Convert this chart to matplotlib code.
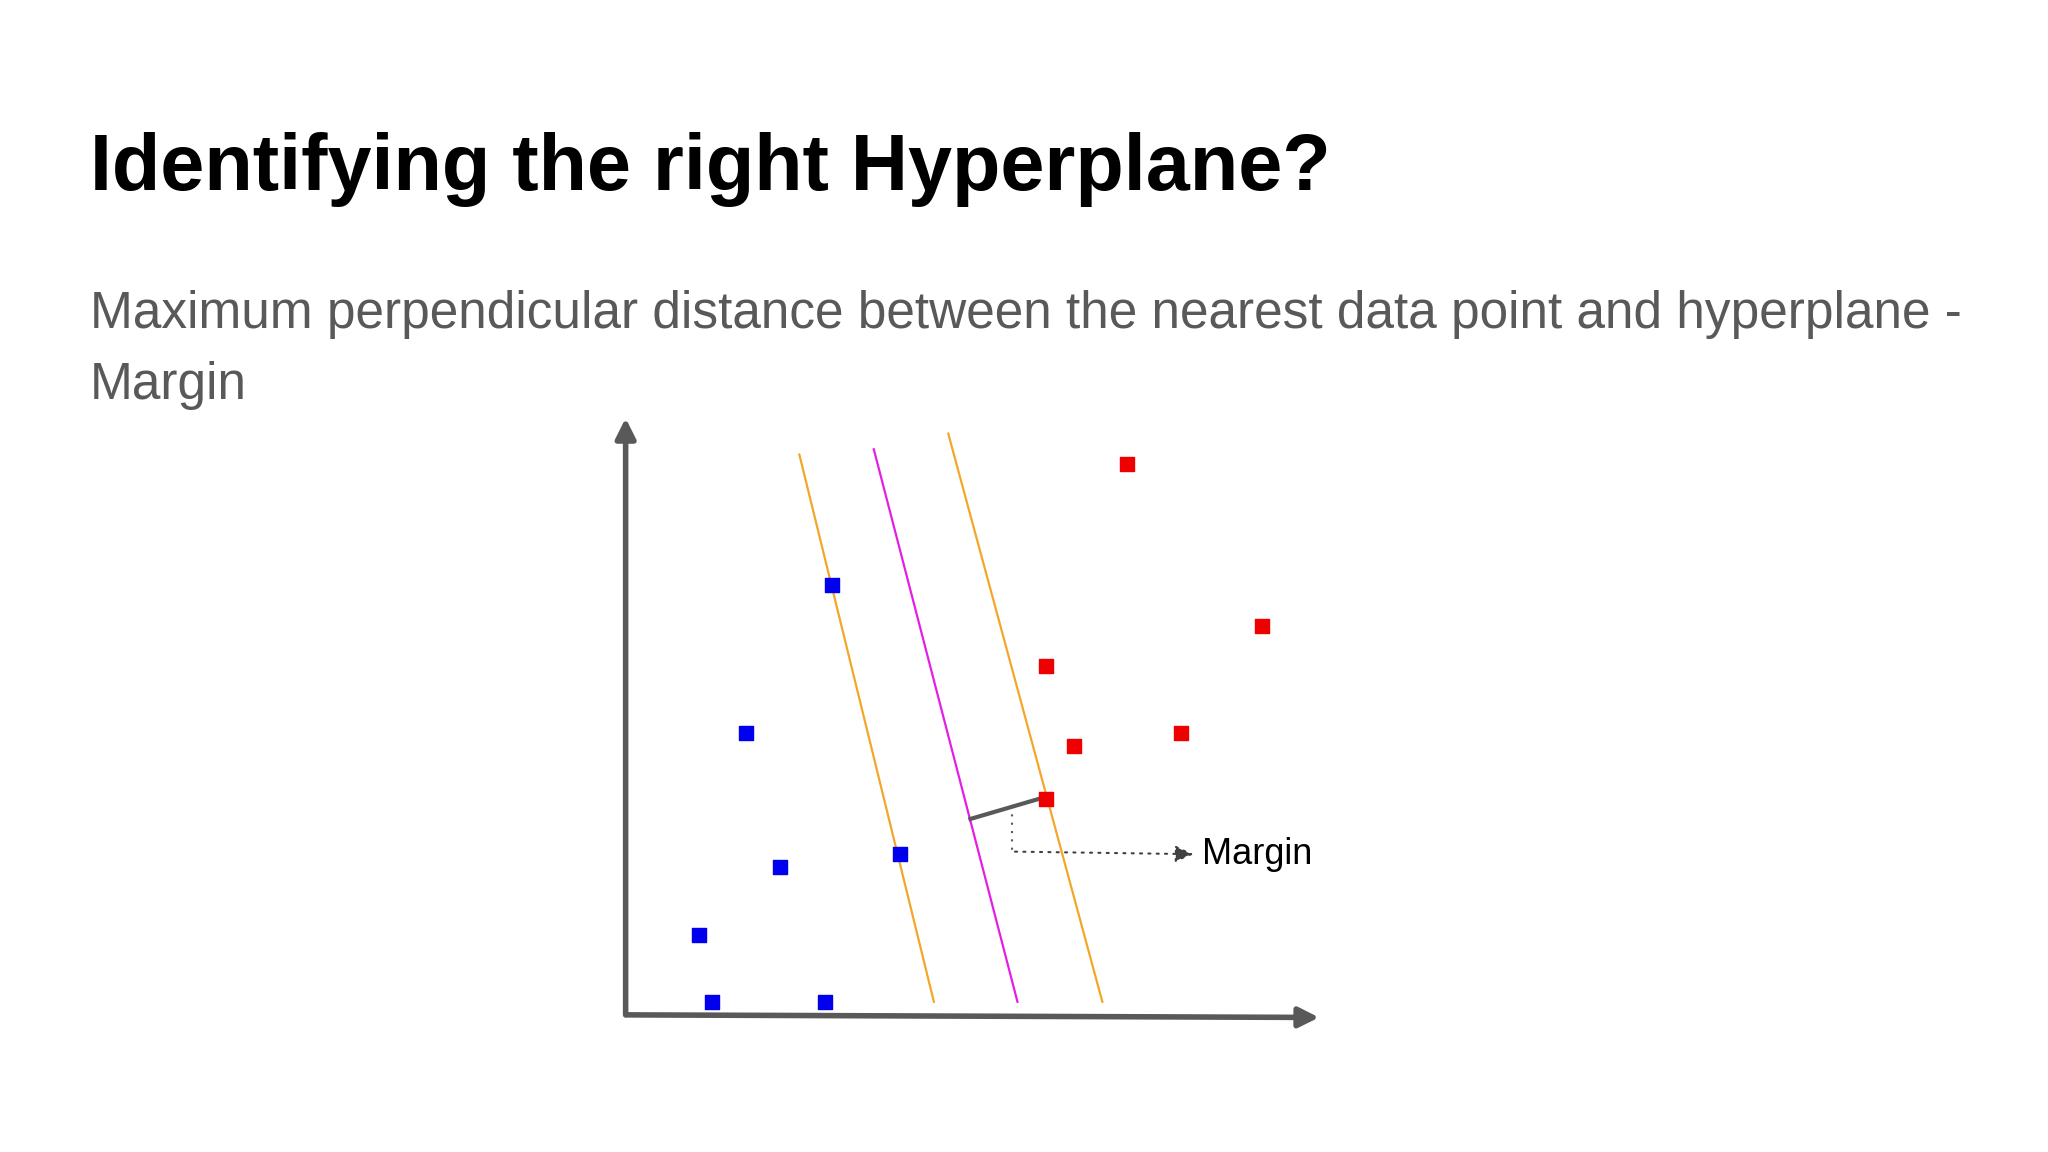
import matplotlib
matplotlib.use("Agg")
import matplotlib.pyplot as plt

plt.rcParams['font.family'] = ['Liberation Sans', 'DejaVu Sans']

W, H = 1568, 882
blue_x = [637, 571, 597, 689, 535, 545, 632]
blue_y = [448, 561, 664, 654, 716, 767, 767]
red_x = [863, 966, 801, 822, 904, 801]
red_y = [355, 479, 510, 571, 561, 612]
lines = {
    'orange1': ((612, 348), (715, 767), '#f4a62a'),
    'magenta': ((669, 344), (779, 767), '#e41ee4'),
    'orange2': ((726, 332), (844, 767), '#f4a62a'),
}

fig = plt.figure(figsize=(20.48, 11.52), dpi=100)
ax = fig.add_axes([0, 0, 1, 1])
ax.set_xlim(0, W)
ax.set_ylim(H, 0)
ax.axis('off')

ax.text(69, 130, "Identifying the right Hyperplane?", fontsize=57, fontweight='bold',
        va='center', ha='left', color='black')
ax.text(69, 241, "Maximum perpendicular distance between the nearest data point and hyperplane -",
        fontsize=37, va='center', ha='left', color='#595959')
ax.text(69, 295, "Margin", fontsize=37, va='center', ha='left', color='#595959')

# axes arrows
ax.annotate('', xy=(479, 318), xytext=(479, 779),
            arrowprops=dict(arrowstyle='-|>,head_width=0.6,head_length=1.2', lw=4, color='#595959'))
ax.annotate('', xy=(1012, 779), xytext=(477, 777),
            arrowprops=dict(arrowstyle='-|>,head_width=0.6,head_length=1.2', lw=4, color='#595959'))

for (p0, p1, c) in lines.values():
    ax.plot([p0[0], p1[0]], [p0[1], p1[1]], color=c, lw=1.6)

ax.plot([743, 801], [627, 610], color='#595959', lw=3)
ax.plot([775, 775], [617, 652], color='#595959', lw=1.5, ls=(0, (1, 3)))
ax.annotate('', xy=(916, 654), xytext=(775, 652),
            arrowprops=dict(arrowstyle='-|>,head_width=0.5,head_length=1.1', lw=1.5,
                            color='#404040', ls=(0, (1, 3))))
ax.text(920, 654, "Margin", fontsize=26, va='center', ha='left', color='black')

ax.scatter(blue_x, blue_y, marker='s', s=110, color='#0000ee', zorder=5)
ax.scatter(red_x, red_y, marker='s', s=110, color='#ee0000', zorder=5)

fig.savefig('out.png', dpi=100)
